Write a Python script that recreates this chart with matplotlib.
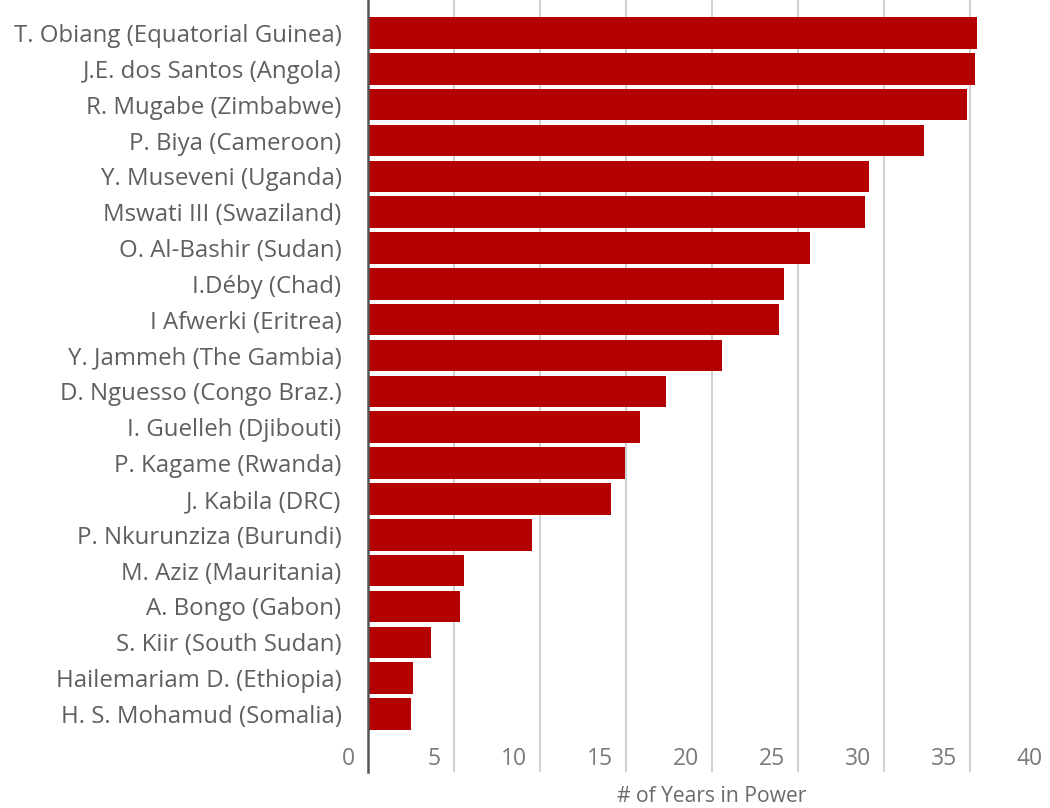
import matplotlib
matplotlib.use("Agg")
import matplotlib.pyplot as plt
import matplotlib.transforms as mtransforms

leaders = [
    "T. Obiang (Equatorial Guinea)",
    "J.E. dos Santos (Angola)",
    "R. Mugabe (Zimbabwe)",
    "P. Biya (Cameroon)",
    "Y. Museveni (Uganda)",
    "Mswati III (Swaziland)",
    "O. Al-Bashir (Sudan)",
    "I.Déby (Chad)",
    "I Afwerki (Eritrea)",
    "Y. Jammeh (The Gambia)",
    "D. Nguesso (Congo Braz.)",
    "I. Guelleh (Djibouti)",
    "P. Kagame (Rwanda)",
    "J. Kabila (DRC)",
    "P. Nkurunziza (Burundi)",
    "M. Aziz (Mauritania)",
    "A. Bongo (Gabon)",
    "S. Kiir (South Sudan)",
    "Hailemariam D. (Ethiopia)",
    "H. S. Mohamud (Somalia)",
]
years = [35.4, 35.3, 34.8, 32.35, 29.15, 28.9, 25.7, 24.2, 23.9, 20.6,
         17.3, 15.8, 14.95, 14.1, 9.55, 5.6, 5.35, 3.65, 2.6, 2.5]
xticks = [0, 5, 10, 15, 20, 25, 30, 35, 40]
xlabel = "# of Years in Power"

plt.rcParams['font.family'] = ['Open Sans', 'DejaVu Sans']

W, H = 1050, 808
fig = plt.figure(figsize=(W / 100, H / 100), dpi=100)
ax_left, ax_right = 368, 1056
ax_top, ax_bottom = 0, 772
ax = fig.add_axes([ax_left / W, 1 - ax_bottom / H, (ax_right - ax_left) / W, (ax_bottom - ax_top) / H])

pos = list(range(len(leaders)))
ax.barh(pos, years, height=0.88, color="#b40000", zorder=3)

ax.set_xlim(0, 40)
row = 35.84
ax.set_ylim((ax_bottom - 33) / row, -33 / row)

ax.set_yticks(pos)
ax.set_yticklabels(leaders, fontsize=17.3, color="#5f5f5f")
ax.set_xticks(xticks)
ax.set_xticklabels([str(t) for t in xticks], fontsize=16.5, color="#7a7a7a")
ax.tick_params(axis='y', length=0, pad=19)
ax.tick_params(axis='x', length=0, pad=-18)

offset = mtransforms.ScaledTranslation(-13 / 100, 0, fig.dpi_scale_trans)
for lab in ax.get_xticklabels():
    lab.set_horizontalalignment('right')
    lab.set_transform(lab.get_transform() + offset)

ax.grid(axis='x', color="#c4c4c4", linewidth=1.1, zorder=0)
ax.grid(axis='y', visible=False)
for s in ['top', 'right', 'bottom']:
    ax.spines[s].set_visible(False)
ax.spines['left'].set_color("#555555")
ax.spines['left'].set_linewidth(1.8)
ax.spines['left'].set_zorder(4)

fig.text((ax_left + ax_right) / 2 / W, 1 - 796 / H, xlabel, ha='center', va='center',
         fontsize=15.2, color="#6a6a6a")

fig.savefig("out.png", dpi=100, facecolor="white")
